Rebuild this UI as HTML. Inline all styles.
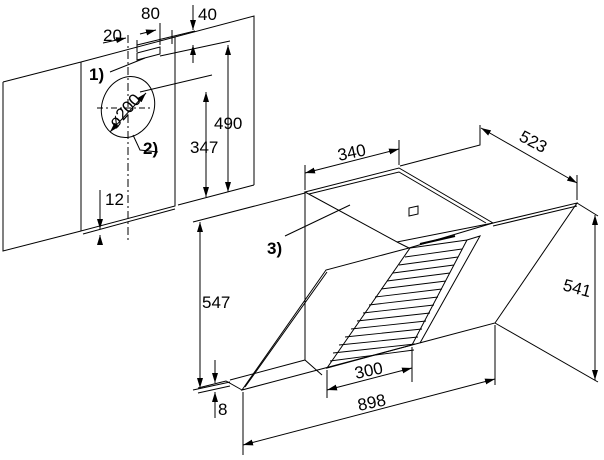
<!DOCTYPE html>
<html><head><meta charset="utf-8"><style>
html,body{margin:0;padding:0;background:#fff;}
svg{display:block;}
text{font-family:"Liberation Sans",Arial,sans-serif;font-size:17px;fill:#000;}
.b{font-weight:bold;}
</style></head><body>
<svg width="604" height="460" viewBox="0 0 604 460" xmlns="http://www.w3.org/2000/svg">
<defs>
<marker id="a" viewBox="0 0 10 6" refX="10" refY="3" markerWidth="10" markerHeight="6" orient="auto-start-reverse" markerUnits="userSpaceOnUse"><path d="M0,0L10,3L0,6z" fill="#000"/></marker>
</defs>
<g stroke="#000" fill="none" stroke-width="1">
<path d="M3,82 L81,62 M81,62 L254,16 L254,185 M3,82 L3,251 L81,231"/>
<path d="M81,62 L81,231 L175,206 L175,37"/>
<path d="M83,234 L175,209 M178,205 L254,185"/>
<path d="M128,35 L128,240" stroke-dasharray="8,3,2,3"/>
<path d="M97,108 L150,108" stroke-dasharray="6,3,2,3"/>
<path d="M137,60 L160,54 L160,47 L137,53 Z"/>
<path d="M137,40 L137,52 M160,23 L160,45 M172,30 L172,44"/>
<path d="M137,45 L195,31 M160,56 L230,41 M140,92 L212,75"/>
<path d="M110,72 L145,58"/>
<ellipse cx="128" cy="107" rx="26" ry="31" transform="rotate(20 128 107)"/>
<path d="M110,132 L146,93" marker-start="url(#a)" marker-end="url(#a)"/>
<path d="M133,135 L140,150 L158,152"/>
<path d="M140,34 L156,30" marker-end="url(#a)"/>
<path d="M103,43 L126,38" marker-end="url(#a)"/>
<path d="M193,5 L193,30" marker-end="url(#a)"/>
<path d="M193,63 L193,45" marker-end="url(#a)"/>
<path d="M228,45 L228,192" marker-start="url(#a)" marker-end="url(#a)"/>
<path d="M206,92 L206,197" marker-start="url(#a)" marker-end="url(#a)"/>
<path d="M100,190 L100,229" marker-end="url(#a)"/>
<path d="M100,245 L100,235" marker-end="url(#a)"/>
<path d="M305,192 L399,168 L493,223 L397,242 Z"/>
<path d="M309,194 L399,172 L486,223"/>
<path d="M305,192 L305,360 L322,375"/>
<path d="M305,360 L230,380"/>
<path d="M397,242 L409,248"/>
<path d="M493,223 L577,203 L495,323 L242,390 L326,270 L409,248 L493,223"/>
<path d="M245,387 L327,272 M493,226 L577,206"/>
<path d="M242,390 L226,381 L198,388"/>
<path d="M577,203 L598,216 M495,323 L598,382"/>
<path d="M410,248 L467,240 L412,345 L327,368 Z"/>
<path d="M420,244 L455,236" stroke-width="2"/>
<g stroke-width="0.9">
<path d="M405,257 L462,249 M399,265 L458,257 M393,273 L454,265 M387,281 L450,273 M381,289 L446,281 M375,297 L442,289 M369,305 L438,297 M363,313 L434,305 M357,321 L430,313 M351,329 L426,321 M345,337 L422,329 M339,345 L418,337 M333,353 L415,344 M330,361 L414,350"/>
</g>
<path d="M467,240 L480,236 L420,343"/>
<path d="M409,208 L418,206 L418,214 L409,216 Z"/>
<path d="M285,236 L350,205"/>
<path d="M305,190 L305,165 M399,165 L399,140 M400,166 L480,145 L480,125 M577,200 L577,175"/>
<path d="M305,173 L399,149" marker-start="url(#a)" marker-end="url(#a)"/>
<path d="M481,128 L577,183" marker-start="url(#a)" marker-end="url(#a)"/>
<path d="M595,215 L595,380" marker-start="url(#a)" marker-end="url(#a)"/>
<path d="M193,222 L305,193"/>
<path d="M200,222 L200,388" marker-start="url(#a)" marker-end="url(#a)"/>
<path d="M193,390 L230,382 M198,393 L230,386"/>
<path d="M215,360 L215,383" marker-end="url(#a)"/>
<path d="M215,418 L215,392" marker-end="url(#a)"/>
<path d="M243,392 L243,455 M495,325 L495,385 M412,347 L412,382 M327,370 L327,398"/>
<path d="M327,390 L412,368" marker-start="url(#a)" marker-end="url(#a)"/>
<path d="M243,445 L495,379" marker-start="url(#a)" marker-end="url(#a)"/>
</g>
<text x="141" y="19">80</text>
<text x="198" y="20">40</text>
<text x="103" y="41">20</text>
<text x="89" y="80" class="b">1)</text>
<text x="143" y="154" class="b">2)</text>
<text x="0" y="0" transform="translate(116,129) rotate(-48)">ø200</text>
<text x="214" y="129">490</text>
<text x="190" y="153">347</text>
<text x="105" y="205">12</text>
<text x="267" y="254" class="b">3)</text>
<text x="0" y="0" transform="translate(339,161) rotate(-12)">340</text>
<text x="0" y="0" transform="translate(518,140) rotate(28)">523</text>
<text x="0" y="0" transform="translate(562,290) rotate(15)">541</text>
<text x="202" y="308">547</text>
<text x="218" y="415">8</text>
<text x="0" y="0" transform="translate(356,379) rotate(-12)">300</text>
<text x="0" y="0" transform="translate(359,411) rotate(-12)">898</text>
</svg>
</body></html>
